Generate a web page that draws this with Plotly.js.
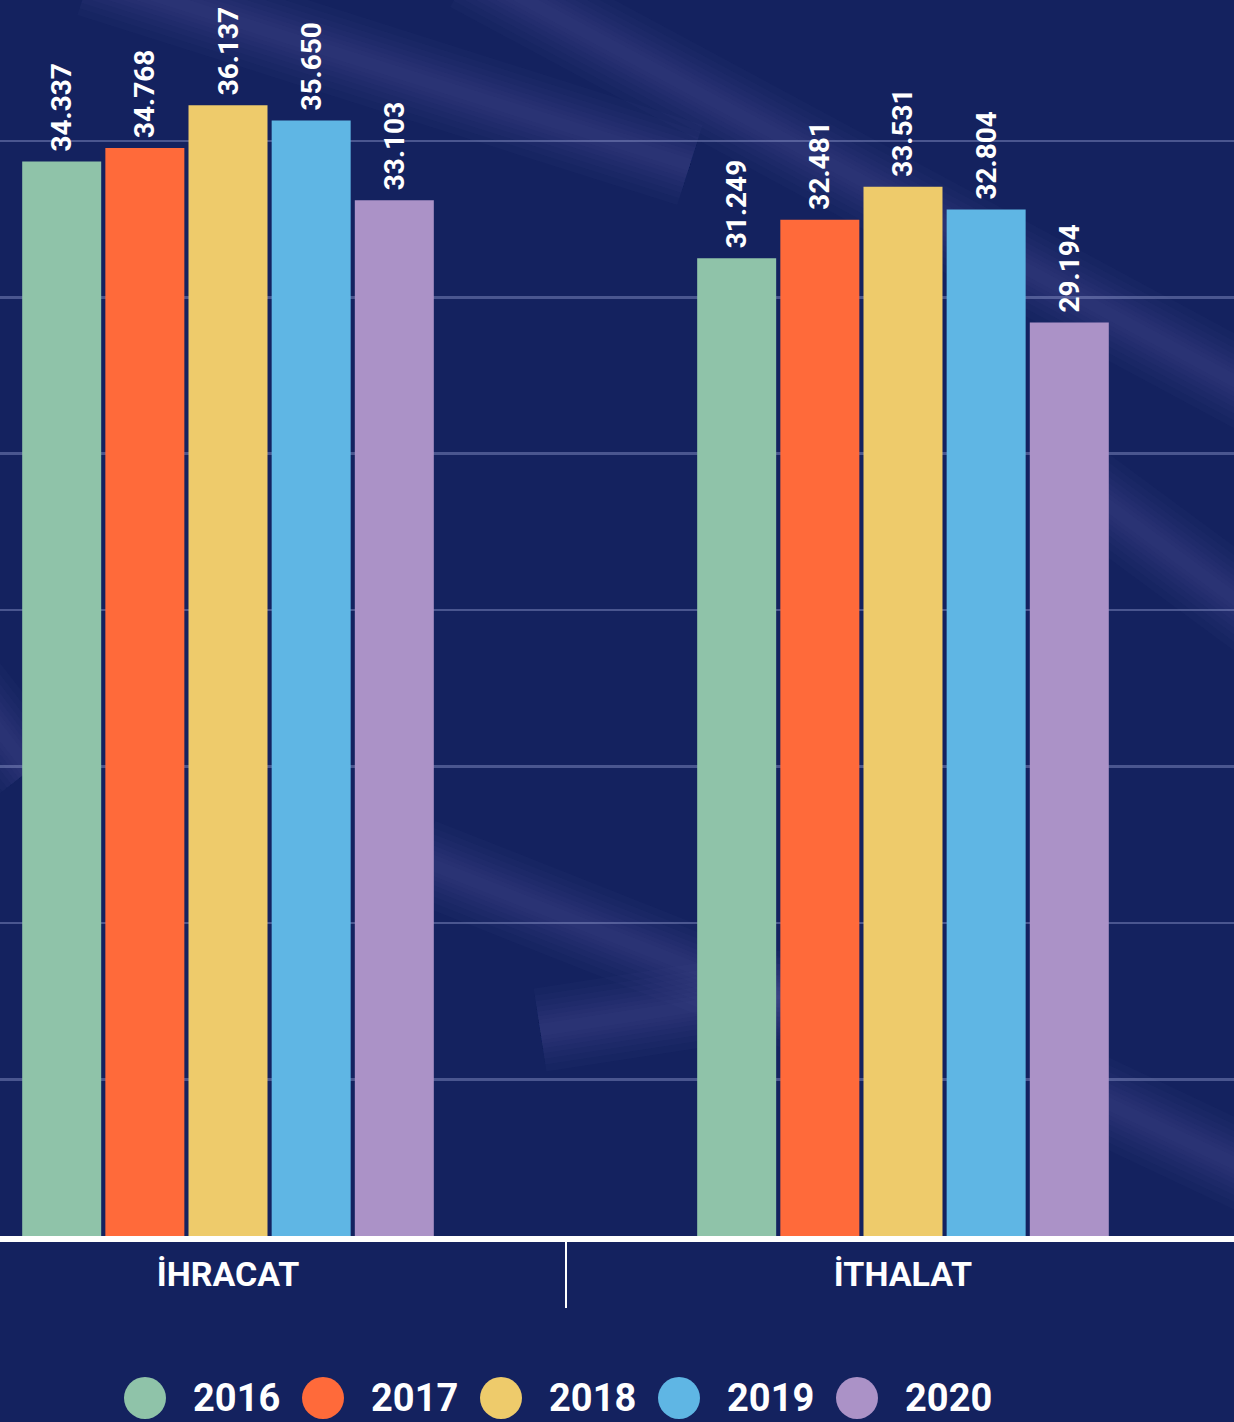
<!DOCTYPE html>
<html>
<head>
<meta charset="utf-8">
<script src="https://cdn.plot.ly/plotly-3.0.1.min.js"></script>
<style>
  html, body { margin: 0; padding: 0; background: #14225f; }
  #chart { width: 1234px; height: 1422px; }
</style>
</head>
<body>
<div id="chart"></div>
<script>
// ---- data ----
const categories = ['İHRACAT', 'İTHALAT'];
const years = ['2016', '2017', '2018', '2019', '2020'];
const values2016 = [34337, 31249];
const values2017 = [34768, 32481];
const values2018 = [36137, 33531];
const values2019 = [35650, 32804];
const values2020 = [33103, 29194];
const seriesValues = [values2016, values2017, values2018, values2019, values2020];
const colors = ['#8fc3a9', '#ff6a3a', '#eecb6b', '#5fb6e4', '#ab92c7'];

const BG = '#14225f';
const FONT = 'Roboto, "Liberation Sans", sans-serif';

const traces = years.map((yr, i) => ({
  type: 'bar',
  name: yr,
  x: categories,
  y: seriesValues[i],
  marker: { color: colors[i] },
  texttemplate: '\u00a0%{y:,.0f}',
  textposition: 'outside',
  textangle: -90,
  constraintext: 'none',
  cliponaxis: false,
  textfont: { family: FONT, size: 28, color: '#ffffff', weight: 700 },
  showlegend: false,
  hoverinfo: 'skip'
}));

// custom legend (large circular swatches) built from years/colors
const legendIdx = years.map((_, i) => i);
traces.push({
  type: 'scatter',
  mode: 'markers',
  x: legendIdx,
  y: years.map(() => 0),
  xaxis: 'x2', yaxis: 'y2',
  marker: { size: 42, color: colors, line: { width: 0 } },
  cliponaxis: false,
  showlegend: false,
  hoverinfo: 'skip'
});
const LEGEND_TEXT_OFFSET = 0.27;
traces.push({
  type: 'scatter',
  mode: 'text',
  x: legendIdx.map(i => i + LEGEND_TEXT_OFFSET),
  y: years.map(() => 0),
  text: years,
  textposition: 'middle right',
  xaxis: 'x2', yaxis: 'y3',
  textfont: { family: FONT, size: 38, color: '#ffffff', weight: 700 },
  cliponaxis: false,
  showlegend: false,
  hoverinfo: 'skip'
});

// soft decorative background streaks (blurred look via stacked strokes)
function streak(x0, y0, x1, y1) {
  const out = [];
  [84, 70, 58, 47, 37, 28, 20, 12].forEach(w => {
    out.push({
      type: 'line', xref: 'paper', yref: 'paper', layer: 'below',
      x0: x0 / 1234, y0: 1 - y0 / 1422, x1: x1 / 1234, y1: 1 - y1 / 1422,
      line: { color: 'rgba(130,150,230,0.026)', width: w }
    });
  });
  return out;
}
const shapes = [].concat(
  streak(470, -30, 1270, 400),
  streak(90, -25, 690, 165),
  streak(1060, 470, 1270, 625),
  streak(-40, 680, 30, 770),
  streak(420, 860, 800, 1010),
  streak(540, 1030, 800, 990),
  streak(1090, 1095, 1270, 1180)
);

const layout = {
  width: 1234,
  height: 1422,
  margin: { l: 0, r: 0, t: 0, b: 0, pad: 0 },
  paper_bgcolor: BG,
  plot_bgcolor: 'rgba(0,0,0,0)',
  separators: ',.',
  barmode: 'group',
  bargap: 0.384,
  bargroupgap: 0.05,
  showlegend: false,
  font: { family: FONT, color: '#ffffff' },
  xaxis: {
    type: 'category',
    range: [-0.3378, 1.4904],
    domain: [0, 1],
    showline: true,
    linecolor: '#ffffff',
    linewidth: 6,
    showgrid: false,
    zeroline: false,
    tickson: 'boundaries',
    ticks: 'outside',
    ticklen: 66,
    tickwidth: 2,
    tickcolor: '#ffffff',
    ticklabelstandoff: 3,
    tickfont: { family: FONT, size: 34, color: '#ffffff', weight: 700 },
    fixedrange: true
  },
  yaxis: {
    range: [0, 39500],
    domain: [1 - 1236 / 1422, 1],
    dtick: 5000,
    showgrid: true,
    gridcolor: 'rgba(150,160,210,0.42)',
    gridwidth: 2.5,
    zeroline: false,
    showticklabels: false,
    ticks: '',
    showline: false,
    fixedrange: true
  },
  xaxis2: {
    anchor: 'y2',
    domain: [0, 1],
    range: [-145 / 178, (1234 - 145) / 178],
    visible: false,
    fixedrange: true
  },
  yaxis2: {
    anchor: 'x2',
    domain: [0, 48 / 1422],
    range: [-1, 1],
    visible: false,
    fixedrange: true
  },
  yaxis3: {
    anchor: 'x2',
    domain: [0, 42 / 1422],
    range: [-1, 1],
    visible: false,
    fixedrange: true
  },
  shapes: shapes
};

Plotly.newPlot('chart', traces, layout, { displayModeBar: false, staticPlot: true });
</script>
</body>
</html>
